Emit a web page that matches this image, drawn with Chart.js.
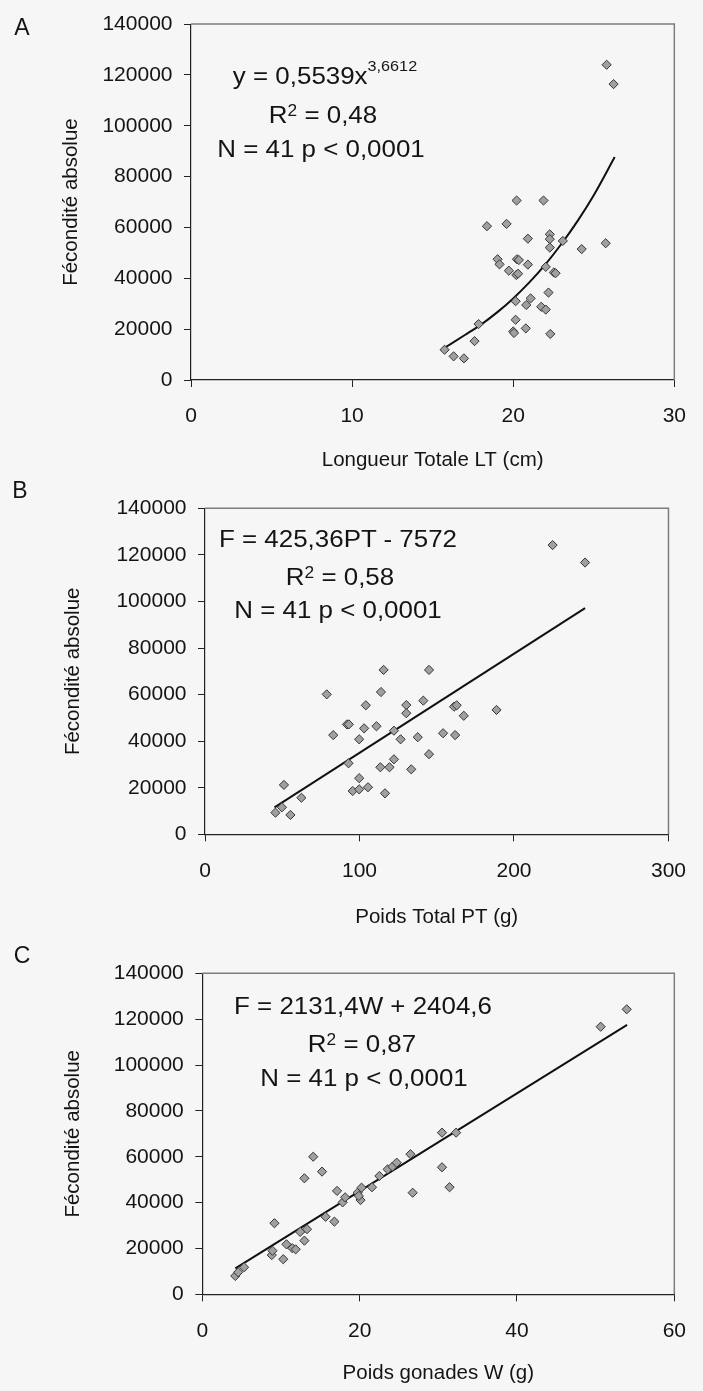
<!DOCTYPE html>
<html><head><meta charset="utf-8">
<script src="https://cdn.jsdelivr.net/npm/chart.js@4/dist/chart.umd.min.js"></script>
<style>
html,body{margin:0;padding:0;}
body{width:703px;height:1391px;position:relative;background:#f6f6f6;overflow:hidden;font-family:"Liberation Sans",Arial,sans-serif;color:#141414;}
canvas{position:absolute;left:0;}
.t{position:absolute;white-space:nowrap;line-height:1;transform:translate(-50%,-50%) scaleX(1.08);font-size:24px;}
.t sup{vertical-align:baseline;position:relative;line-height:1;}
.p{position:absolute;font-size:23px;line-height:1;transform:translate(-50%,-50%);}
</style></head><body>
<canvas id="cA" width="703" height="480" style="top:0px"></canvas>
<canvas id="cB" width="703" height="460" style="top:480px"></canvas>
<canvas id="cC" width="703" height="451" style="top:940px"></canvas>

<div class="p" style="left:22px;top:27px">A</div>
<div class="p" style="left:20px;top:490px">B</div>
<div class="p" style="left:22px;top:955px">C</div>

<div class="t" style="left:325px;top:76px">y = 0,5539x<sup style="font-size:15px;top:-13px">3,6612</sup></div>
<div class="t" style="left:323px;top:115px">R<sup style="font-size:16px;top:-7px">2</sup> = 0,48</div>
<div class="t" style="left:321px;top:149px">N = 41 p &lt; 0,0001</div>

<div class="t" style="left:338px;top:539px">F = 425,36PT - 7572</div>
<div class="t" style="left:340px;top:577px">R<sup style="font-size:16px;top:-7px">2</sup> = 0,58</div>
<div class="t" style="left:338px;top:610px">N = 41 p &lt; 0,0001</div>

<div class="t" style="left:363px;top:1006px">F = 2131,4W + 2404,6</div>
<div class="t" style="left:362px;top:1044px">R<sup style="font-size:16px;top:-7px">2</sup> = 0,87</div>
<div class="t" style="left:364px;top:1078px">N = 41 p &lt; 0,0001</div>

<script>
// ---- Data ----
const yTickLabels = ['0','20000','40000','60000','80000','100000','120000','140000'];

// Panel A: total length LT (cm) vs absolute fecundity
const lengthLT = [15.74,16.30,16.94,17.60,17.85,18.37,19.59,20.21,21.88,20.91,22.27,22.27,23.08,22.27,24.25,25.74,19.03,19.15,20.23,20.35,20.91,19.73,20.19,20.30,22.02,22.52,22.63,22.19,20.15,21.08,20.81,21.74,22.02,20.15,20.78,20.00,20.05,22.30,25.80,26.23];
const fecA     = [11900,9300,8500,15300,22000,60500,61400,70600,70600,55600,57300,55400,54700,52100,51500,53800,47500,45500,47500,47200,45400,43000,41300,41800,44500,42300,42000,34400,31000,32100,29500,28800,27700,23700,20300,19100,18500,18100,124000,116400];
const trendA_x = [15.7,17,18,19,20,21,22,23,24,25,26.3];
const trendA_y = [12500,17700,21800,26600,32100,38400,45500,53600,62600,72700,87700];
const xTicksA = ['0','10','20','30'];

// Panel B: total weight PT (g) vs absolute fecundity
const weightPT = [115.6,145.0,78.8,113.9,104.1,130.3,130.3,141.3,161.2,162.9,167.5,91.9,93.1,103.0,111.0,122.3,83.0,99.8,126.6,137.7,154.1,161.9,145.0,92.9,122.3,113.5,119.4,133.5,99.8,95.6,99.8,105.5,116.5,51.1,62.4,45.6,49.8,55.3,225.0,246.0,188.7];
const fecB     = [70600,70600,60100,61100,55400,55500,52000,57400,54800,55400,50900,47200,47200,45500,46400,44500,42600,40800,40800,41700,43400,42600,34400,30500,32200,28800,28800,27900,24100,18600,19300,20200,17600,21200,15700,9300,11600,8300,124200,116700,53400];
const trendB_x = [45,246];
const trendB_y = [11600,97100];
const xTicksB = ['0','100','200','300'];

// Panel C: gonad weight W (g) vs absolute fecundity
const gonadW = [4.19,4.56,5.31,8.83,8.92,10.29,9.17,10.70,11.44,11.87,12.44,12.98,13.31,12.98,14.10,15.22,15.67,16.79,17.13,17.84,18.16,19.74,20.24,20.11,19.90,21.57,22.51,23.56,24.18,24.71,26.46,26.74,30.47,32.26,30.47,31.43,50.64,53.95];
const fecC   = [8000,9600,11800,17100,19000,15300,31000,21800,20100,19600,27200,23400,28400,50600,60000,53500,33800,31700,45100,40100,42300,44300,46500,41100,42900,46700,51600,54500,55700,57400,61100,44300,70500,70500,55400,46700,116700,124300];
const trendC_x = [4.2,54];
const trendC_y = [11350,117500];
const xTicksC = ['0','20','40','60'];

// ---- Drawing ----
const FAM = "'Liberation Sans', Arial, sans-serif";
const INK = '#141414';

const framePlugin = {
  id: 'frame',
  beforeDatasetsDraw(chart) {
    const {ctx, chartArea: {left, right, top, bottom}} = chart;
    ctx.save();
    ctx.strokeStyle = '#7d7d7d';
    ctx.lineWidth = 1.5;
    ctx.beginPath();
    ctx.moveTo(left, top);
    ctx.lineTo(right, top);
    ctx.lineTo(right, bottom);
    ctx.stroke();
    ctx.restore();
  }
};

function panel(id, xs, ys, tx, ty, xMax, xStep, xLabels, xTitle, g) {
  const pts = xs.map((x, i) => ({x: x, y: ys[i]}));
  const trend = tx.map((x, i) => ({x: x, y: ty[i]}));
  return new Chart(document.getElementById(id), {
    type: 'scatter',
    data: {datasets: [
      {data: pts, pointStyle: 'rectRot', pointRadius: 4.6, pointHoverRadius: 4.6,
       backgroundColor: '#a0a0a0', borderColor: '#353535', borderWidth: 1, order: 0},
      {type: 'line', data: trend, borderColor: '#111', borderWidth: 2, pointRadius: 0,
       fill: false, cubicInterpolationMode: 'monotone', order: 1}
    ]},
    options: {
      responsive: false, animation: false, devicePixelRatio: 1,
      layout: {padding: {left: 0, right: g.pr, top: g.pt, bottom: g.pb}},
      plugins: {legend: {display: false}, tooltip: {enabled: false}},
      scales: {
        x: {
          type: 'linear', min: 0, max: xMax,
          ticks: {stepSize: xStep, autoSkip: false, maxRotation: 0, padding: 17,
                  color: INK, font: {size: 21, family: FAM},
                  callback: (v, i) => xLabels[i]},
          grid: {drawOnChartArea: false, drawTicks: true, tickLength: 7, color: '#222'},
          border: {color: '#222', width: 1.2},
          title: {display: true, text: xTitle, color: INK, font: {size: 20.5, family: FAM}, padding: 0},
          afterFit: s => { s.height = g.xh; }
        },
        y: {
          min: 0, max: 140000,
          ticks: {stepSize: 20000, padding: 11.5, color: INK, font: {size: 21, family: FAM},
                  callback: (v, i) => yTickLabels[i]},
          grid: {drawOnChartArea: false, drawTicks: true, tickLength: 7, color: '#222'},
          border: {color: '#222', width: 1.2},
          title: {display: true, text: 'Fécondité absolue', color: INK, font: {size: 20.5, family: FAM},
                  padding: {top: g.ytx - 12.3, bottom: 0}},
          afterFit: s => { s.width = g.yw; }
        }
      }
    },
    plugins: [framePlugin]
  });
}

panel('cA', lengthLT, fecA, trendA_x, trendA_y, 30, 10, xTicksA, 'Longueur Totale LT (cm)',
      {pr: 28, pt: 19.3, pb: 7.7, xh: 92.3, yw: 191, ytx: 71});
panel('cB', weightPT, fecB, trendB_x, trendB_y, 300, 100, xTicksB, 'Poids Total PT (g)',
      {pr: 22.3, pt: 28.3, pb: 10.7, xh: 95.0, yw: 205, ytx: 73});
panel('cC', gonadW, fecC, trendC_x, trendC_y, 60, 20, xTicksC, 'Poids gonades W (g)',
      {pr: 18.3, pt: 33.3, pb: 5.7, xh: 91.0, yw: 202.3, ytx: 73});
</script>
</body></html>
